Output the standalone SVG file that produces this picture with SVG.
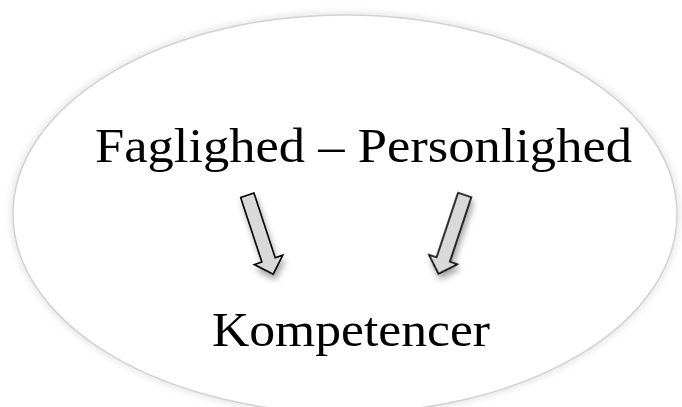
<svg xmlns="http://www.w3.org/2000/svg" width="682" height="407" viewBox="0 0 682 407">
  <defs>
    <filter id="soft" x="-10%" y="-10%" width="120%" height="120%">
      <feGaussianBlur stdDeviation="3"/>
    </filter>
    <filter id="ashadow" x="-50%" y="-50%" width="200%" height="200%">
      <feGaussianBlur in="SourceAlpha" stdDeviation="3"/>
      <feOffset dx="2" dy="5" result="b"/>
      <feComponentTransfer><feFuncA type="linear" slope="0.35"/></feComponentTransfer>
      <feMerge><feMergeNode/><feMergeNode in="SourceGraphic"/></feMerge>
    </filter>
    <path id="arrowShape" d="M -7 0 L 7 0 L 7 68 L 15 68 L 0 83 L -15 68 L -7 68 Z"/>
  </defs>
  <style>
    .label { font-family: "Liberation Serif", "Times New Roman", serif; font-size: 49px; fill: #000; }
    .arrow { fill: #d9d9d9; stroke: #000; stroke-width: 1.6; stroke-linejoin: miter; }
  </style>
  <rect width="682" height="407" fill="#fff"/>
  <g id="oval">
    <ellipse cx="345" cy="214" rx="332" ry="199" fill="none" stroke="#e6e6e6" stroke-width="6" filter="url(#soft)"/>
    <ellipse cx="345" cy="214" rx="332" ry="199" fill="#fff" stroke="#d2d2d2" stroke-width="1.5"/>
  </g>
  <g id="top-label">
    <text class="label" x="95" y="162" textLength="537" lengthAdjust="spacingAndGlyphs">Faglighed – Personlighed</text>
  </g>
  <g id="bottom-label">
    <text class="label" x="212" y="346" textLength="278" lengthAdjust="spacingAndGlyphs">Kompetencer</text>
  </g>
  <g id="connectors" filter="url(#ashadow)">
    <use href="#arrowShape" class="arrow" transform="translate(247.3 195.3) rotate(-18.2)"/>
    <use href="#arrowShape" class="arrow" transform="translate(464.7 195) rotate(18.4)"/>
  </g>
</svg>
